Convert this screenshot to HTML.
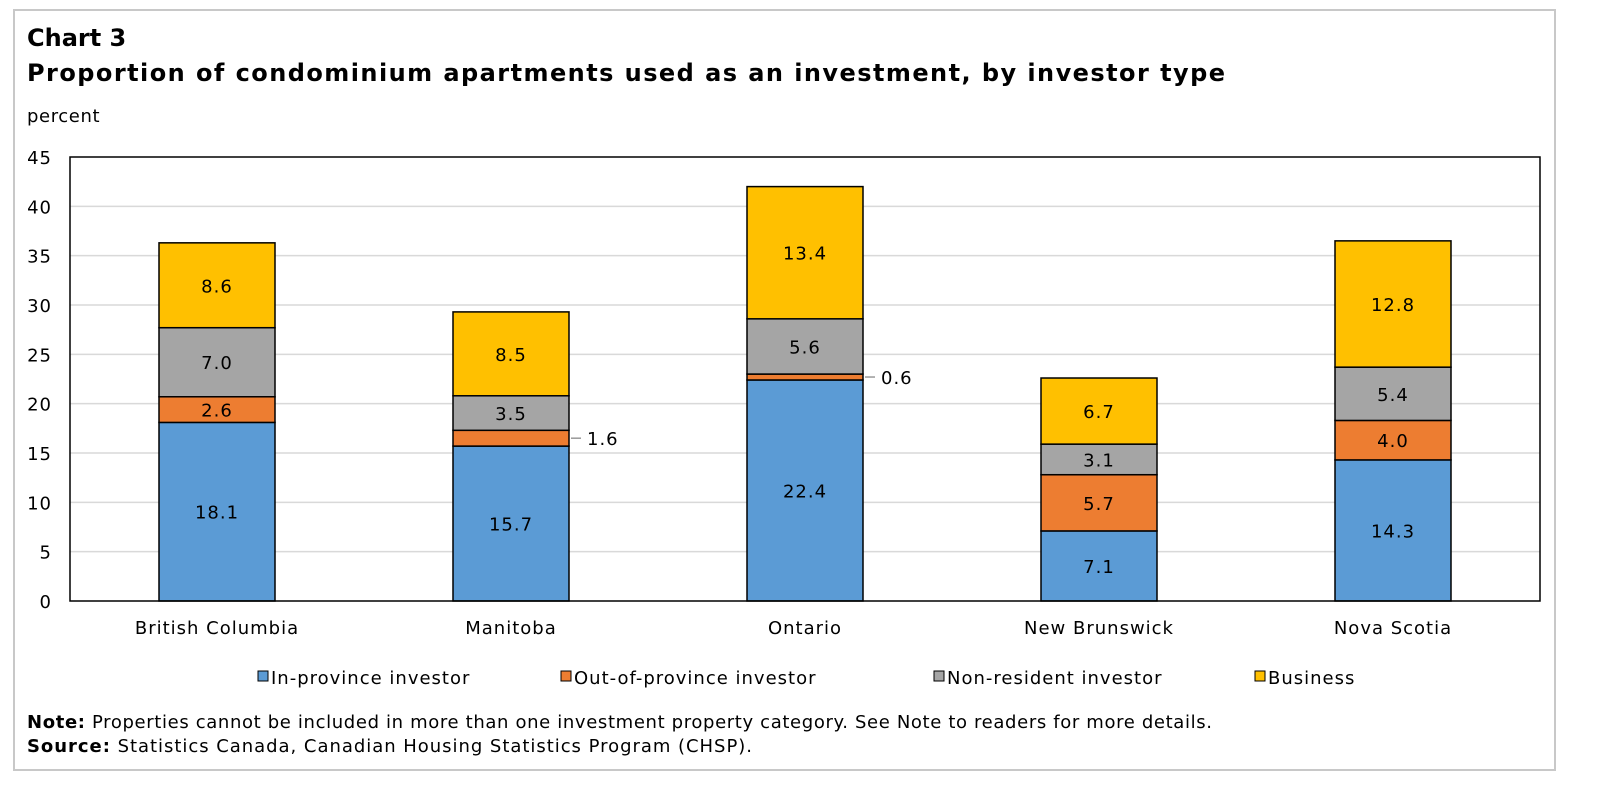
<!DOCTYPE html>
<html><head><meta charset="utf-8"><style>
body{margin:0;background:#fff;}
svg text{font-family:"DejaVu Sans","Liberation Sans",sans-serif;fill:#000;}
</style></head><body>
<svg id="chart" width="1600" height="792" viewBox="0 0 1600 792">
<rect x="14" y="10" width="1541" height="760" fill="#fff" stroke="#c8c8c8" stroke-width="2"/>
<text x="27" y="46" font-size="24" font-weight="bold">Chart 3</text>
<text x="27" y="81" font-size="24" font-weight="bold" textLength="1198" lengthAdjust="spacing">Proportion of condominium apartments used as an investment, by investor type</text>
<text x="27" y="122" font-size="18" letter-spacing="0.6">percent</text>
<g id="grid"></g>
<g id="bars"></g>
<rect x="70" y="157" width="1470" height="444" fill="none" stroke="#000" stroke-width="1.5"/>
<g id="legend"></g>
<text x="27" y="728" font-size="18" textLength="1185" lengthAdjust="spacing"><tspan font-weight="bold">Note:</tspan> Properties cannot be included in more than one investment property category. See Note to readers for more details.</text>
<text x="27" y="752" font-size="18" textLength="725" lengthAdjust="spacing"><tspan font-weight="bold">Source:</tspan> Statistics Canada, Canadian Housing Statistics Program (CHSP).</text>
</svg>
<script>
const categories=["British Columbia","Manitoba","Ontario","New Brunswick","Nova Scotia"];
const inProvince=[18.1,15.7,22.4,7.1,14.3];
const outProvince=[2.6,1.6,0.6,5.7,4.0];
const nonResident=[7.0,3.5,5.6,3.1,5.4];
const business=[8.6,8.5,13.4,6.7,12.8];
const seriesNames=["In-province investor","Out-of-province investor","Non-resident investor","Business"];
const yTicks=[0,5,10,15,20,25,30,35,40,45];
const colors=["#5b9bd5","#ed7d31","#a5a5a5","#ffc000"];
const NS="http://www.w3.org/2000/svg";
const L=70,R=1540,T=157,B=601,yMax=45;
const y=v=>B-(v/yMax)*(B-T);
const band=(R-L)/categories.length;
const xc=i=>L+band*(i+0.5);
const bw=116;
function mk(tag,attrs,parent){const e=document.createElementNS(NS,tag);for(const k in attrs)e.setAttribute(k,attrs[k]);parent.appendChild(e);return e;}
const grid=document.getElementById('grid');
yTicks.forEach(t=>{
  if(t>0&&t<yMax){const g=mk('line',{x1:L,x2:R,y1:y(t),y2:y(t),stroke:'#d9d9d9','stroke-width':1.5},grid);
  
  }
  const tx=mk('text',{x:L-18,y:y(t)+7,'font-size':18,'letter-spacing':1,'text-anchor':'end'},grid);
  tx.textContent=t;
  
  
});
const bars=document.getElementById('bars');
const series=[inProvince,outProvince,nonResident,business];
categories.forEach((c,i)=>{
  let base=0;
  series.forEach((s,k)=>{
    const v=s[i];
    const r=mk('rect',{x:xc(i)-bw/2,y:y(base+v),width:bw,height:y(base)-y(base+v),fill:colors[k],stroke:'#000','stroke-width':1.5},bars);
    
    
    const mid=(y(base)+y(base+v))/2;
    if(v>=2){
      const t=mk('text',{x:xc(i),y:mid+7,'font-size':18,'letter-spacing':1,'text-anchor':'middle'},bars);
      t.textContent=v.toFixed(1);
      
      
    } else {
      const ln=mk('line',{x1:xc(i)+bw/2+2,x2:xc(i)+bw/2+12,y1:mid,y2:mid,stroke:'#999','stroke-width':1.5},bars);
      
      
      const t=mk('text',{x:xc(i)+bw/2+18,y:mid+7,'font-size':18,'letter-spacing':1},bars);
      t.textContent=v.toFixed(1);
      
      
    }
    base+=v;
  });
  const ct=mk('text',{x:xc(i),y:B+33,'font-size':18,'letter-spacing':1,'text-anchor':'middle'},bars);
  ct.textContent=c;
  
  
});
const legend=document.getElementById('legend');
const lx=[258,561,934,1255];
seriesNames.forEach((n,k)=>{
  const g=mk('g',{},legend);
  
  
  mk('rect',{x:lx[k],y:671,width:10,height:10,fill:colors[k],stroke:'#000','stroke-width':1},g);
  const t=mk('text',{x:lx[k]+13,y:684,'font-size':18,'letter-spacing':1},g);
  t.textContent=n;
});
</script>
</body></html>
